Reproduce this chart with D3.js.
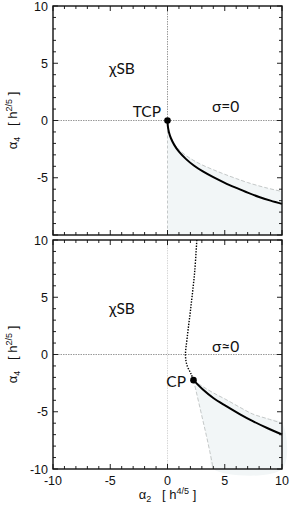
<!DOCTYPE html>
<html>
<head>
<meta charset="utf-8">
<script src="https://cdn.jsdelivr.net/npm/d3@7/dist/d3.min.js"></script>
<style>
  body { margin: 0; background: #fff; }
  svg text { font-family: "Liberation Sans", Arial, sans-serif; fill: #111; }
  .lbl { font-family: Lato, "Open Sans", sans-serif; font-size: 15.5px; }
</style>
</head>
<body>
<div id="chart"></div>
<script>
// tick labels
const xTickLabels = [-10, -5, 0, 5, 10];
const yTickLabelsTop = [10, 5, 0, -5];
const yTickLabelsBottom = [10, 5, 0, -5, -10];

// top panel (sigma = 0): first order line from TCP and the gray spinodal
const topLineX = [0, 0.03, 0.12, 0.3, 0.6, 1.0, 1.6, 2.3, 3.09, 4.0, 5.0, 6.0, 7.0, 8.0, 9.0, 10];
const topLineY = [0, -0.5, -1.0, -1.55, -2.15, -2.72, -3.35, -3.93, -4.45, -4.95, -5.44, -5.88, -6.3, -6.68, -7.0, -7.28];
const topSpinX = [0, 0.03, 0.12, 0.3, 0.6, 1.0, 1.6, 2.3, 3.0, 4.0, 5.0, 6.0, 7.0, 8.5, 10];
const topSpinY = [0, -0.5, -0.98, -1.5, -2.05, -2.55, -3.05, -3.5, -3.87, -4.3, -4.7, -5.07, -5.42, -5.85, -6.2];
const tcp = [0, 0];

// bottom panel (sigma ~ 0)
const botLineX = [2.27, 3.09, 4.0, 5.13, 6.3, 7.45, 8.7, 10];
const botLineY = [-2.24, -3.06, -3.8, -4.51, -5.2, -5.82, -6.42, -6.99];
const botSpinUpX = [2.27, 3.0, 4.0, 5.1, 6.3, 7.45, 8.7, 10];
const botSpinUpY = [-2.24, -2.75, -3.35, -3.93, -4.6, -5.2, -5.6, -6.0];
const botSpinLoX = [2.27, 2.5, 2.8, 3.1, 3.4, 3.7, 4.0];
const botSpinLoY = [-2.24, -3.2, -4.5, -5.8, -7.1, -8.5, -10];
const crossX = [2.56, 2.38, 2.07, 1.72, 1.57, 1.72, 2.07, 2.27];
const crossY = [10, 7.31, 4.39, 1.48, -0.12, -0.99, -1.72, -2.24];
const cp = [2.27, -2.24];

const zip = (xs, ys) => xs.map((x, i) => [x, ys[i]]);

const W = 291, H = 513;
const svg = d3.select('#chart').append('svg')
        .attr('width', W)
        .attr('height', H);

const x = d3.scaleLinear().domain([-10, 10]).range([53, 282]);
const yTop = d3.scaleLinear().domain([-10, 10]).range([235, 6]);
const yBot = d3.scaleLinear().domain([-10, 10]).range([469, 240]);

const shade = '#f2f6f7';
const grid = '#9a9a9a';
const spin = '#c4c8c8';

function frame(y, yLabels, showX) {
        const g = svg.append('g');
        // minor ticks every 1, major every 5, pointing inward on all sides
        const minor = d3.range(-10, 10.01, 1);
        minor.forEach(v => {
                const len = v % 5 === 0 ? 5 : 3;
                g.append('line').attr('x1', x(v)).attr('x2', x(v)).attr('y1', y(-10)).attr('y2', y(-10) - len);
                g.append('line').attr('x1', x(v)).attr('x2', x(v)).attr('y1', y(10)).attr('y2', y(10) + len);
                g.append('line').attr('y1', y(v)).attr('y2', y(v)).attr('x1', x(-10)).attr('x2', x(-10) + len);
                g.append('line').attr('y1', y(v)).attr('y2', y(v)).attr('x1', x(10)).attr('x2', x(10) - len);
        });
        g.selectAll('line').attr('stroke', '#222').attr('stroke-width', 1);
        g.append('rect')
                .attr('x', x(-10)).attr('y', y(10))
                .attr('width', x(10) - x(-10)).attr('height', y(-10) - y(10))
                .attr('fill', 'none').attr('stroke', '#111').attr('stroke-width', 1.4);

        g.selectAll('.yl').data(yLabels).join('text')
                .attr('x', 48).attr('y', d => y(d) + 4.5)
                .attr('text-anchor', 'end').attr('font-size', 12.5)
                .text(d => d);
        if (showX) {
                g.selectAll('.xl').data(xTickLabels).join('text')
                        .attr('x', d => x(d)).attr('y', y(-10) + 16)
                        .attr('text-anchor', 'middle').attr('font-size', 12.5)
                        .text(d => d);
        }
        // y axis title
        const t = g.append('text')
                .attr('transform', `translate(17,${y(0)}) rotate(-90)`)
                .attr('text-anchor', 'middle').attr('font-size', 13)
                .attr('xml:space', 'preserve');
        t.append('tspan').text('\u03b1');
        t.append('tspan').attr('font-size', 9).attr('dy', 3).text('4');
        t.append('tspan').attr('dy', -3).text('   [ h');
        t.append('tspan').attr('font-size', 9).attr('dy', -5).text('2/5');
        t.append('tspan').attr('dy', 5).text(' ]');
}

const line = y => d3.line().x(d => x(d[0])).y(d => y(d[1])).curve(d3.curveCatmullRom.alpha(0.5));

// ---------- top panel ----------
const topSpin = zip(topSpinX, topSpinY);
const topArea = topSpin.concat([[10, -10], [0, -10]]);
svg.append('path')
        .attr('d', d3.line().x(d => x(d[0])).y(d => yTop(d[1])).curve(d3.curveLinear)(topArea))
        .attr('fill', shade);
svg.append('path').attr('d', line(yTop)(topSpin))
        .attr('fill', 'none').attr('stroke', spin).attr('stroke-width', 1).attr('stroke-dasharray', '4,2');

svg.append('line').attr('x1', x(-10)).attr('x2', x(10)).attr('y1', yTop(0)).attr('y2', yTop(0))
        .attr('stroke', grid).attr('stroke-width', 1).attr('stroke-dasharray', '1.5,1');
svg.append('line').attr('x1', x(0)).attr('x2', x(0)).attr('y1', yTop(10)).attr('y2', yTop(0))
        .attr('stroke', grid).attr('stroke-width', 1).attr('stroke-dasharray', '1.5,1');
svg.append('line').attr('x1', x(0)).attr('x2', x(0)).attr('y1', yTop(0)).attr('y2', yTop(-10))
        .attr('stroke', spin).attr('stroke-width', 1).attr('stroke-dasharray', '3,2');

svg.append('path').attr('d', line(yTop)(zip(topLineX, topLineY)))
        .attr('fill', 'none').attr('stroke', '#000').attr('stroke-width', 2);
svg.append('circle').attr('cx', x(tcp[0])).attr('cy', yTop(tcp[1])).attr('r', 3.3).attr('fill', '#000');

frame(yTop, yTickLabelsTop, false);

svg.append('text').attr('class', 'lbl').attr('x', 109).attr('y', 74).text('\u03c7SB');
svg.append('text').attr('class', 'lbl').attr('x', 161).attr('y', 117).attr('text-anchor', 'end').text('TCP');
svg.append('text').attr('class', 'lbl').attr('x', 212).attr('y', 112).text('\u03c3=0');

// ---------- bottom panel ----------
const upS = zip(botSpinUpX, botSpinUpY);
const loS = zip(botSpinLoX, botSpinLoY);
const botArea = upS.concat([[10, -10]]).concat(loS.slice().reverse());
svg.append('path')
        .attr('d', line(yBot)(botArea))
        .attr('fill', shade);
svg.append('path').attr('d', line(yBot)(upS))
        .attr('fill', 'none').attr('stroke', spin).attr('stroke-width', 1).attr('stroke-dasharray', '4,2');
svg.append('path').attr('d', line(yBot)(loS))
        .attr('fill', 'none').attr('stroke', spin).attr('stroke-width', 1).attr('stroke-dasharray', '4,2');

svg.append('line').attr('x1', x(0)).attr('x2', x(0)).attr('y1', yBot(10)).attr('y2', yBot(-10))
        .attr('stroke', '#d8d8d8').attr('stroke-width', 1).attr('stroke-dasharray', '1.5,1');
svg.append('line').attr('x1', x(-10)).attr('x2', x(10)).attr('y1', yBot(0)).attr('y2', yBot(0))
        .attr('stroke', grid).attr('stroke-width', 1).attr('stroke-dasharray', '1.5,1');

svg.append('path').attr('d', line(yBot)(zip(crossX, crossY)))
        .attr('fill', 'none').attr('stroke', '#000').attr('stroke-width', 1.4).attr('stroke-dasharray', '1.4,1.4');
svg.append('path').attr('d', line(yBot)(zip(botLineX, botLineY)))
        .attr('fill', 'none').attr('stroke', '#000').attr('stroke-width', 2);
svg.append('circle').attr('cx', x(cp[0])).attr('cy', yBot(cp[1])).attr('r', 3.3).attr('fill', '#000');

frame(yBot, yTickLabelsBottom, true);

svg.append('text').attr('class', 'lbl').attr('x', 109).attr('y', 314).text('\u03c7SB');
svg.append('text').attr('class', 'lbl').attr('x', 212).attr('y', 352).text('\u03c3\u22480');
svg.append('text').attr('class', 'lbl').attr('x', 186).attr('y', 387).attr('text-anchor', 'end').text('CP');

// x axis title
const xt = svg.append('text').attr('x', x(0)).attr('y', 499).attr('text-anchor', 'middle')
        .attr('font-size', 13).attr('xml:space', 'preserve');
xt.append('tspan').text('\u03b1');
xt.append('tspan').attr('font-size', 9).attr('dy', 3).text('2');
xt.append('tspan').attr('dy', -3).text('   [ h');
xt.append('tspan').attr('font-size', 9).attr('dy', -5).text('4/5');
xt.append('tspan').attr('dy', 5).text(' ]');
</script>
</body>
</html>
